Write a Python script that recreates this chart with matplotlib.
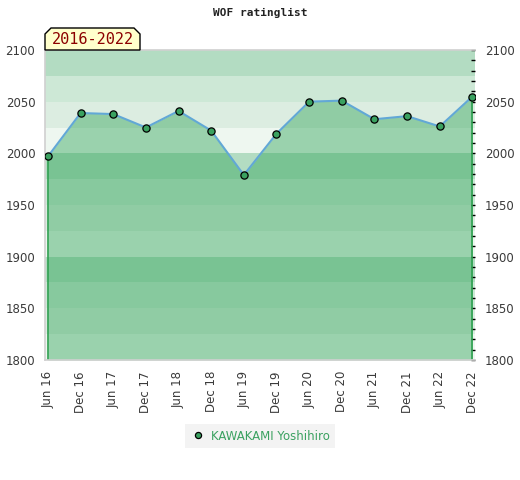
import matplotlib
matplotlib.use("Agg")
import matplotlib.pyplot as plt
from matplotlib.patches import Polygon
from matplotlib.ticker import MultipleLocator

# data
periods = ['Jun 16', 'Dec 16', 'Jun 17', 'Dec 17', 'Jun 18', 'Dec 18', 'Jun 19',
           'Dec 19', 'Jun 20', 'Dec 20', 'Jun 21', 'Dec 21', 'Jun 22', 'Dec 22']
rating = [1997, 2039, 2038, 2025, 2041, 2022, 1979,
          2019, 2050, 2051, 2033, 2036, 2026, 2055]
player = 'KAWAKAMI Yoshihiro'
span_label = '2016-2022'
y_min, y_max = 1800, 2100

# background band colours, period of 100 rating points (top to bottom)
band_colors = ['#b3dcc2', '#cde8d6', '#dcede1', '#eef7f0']

fig = plt.figure(figsize=(5.2, 4.8), dpi=100)
ax = fig.add_axes([45 / 520, 120 / 480, 430 / 520, 310 / 480])

# bands
for lo in range(y_min, y_max, 25):
    idx = 3 - ((lo - y_min) % 100) // 25
    ax.axhspan(lo, lo + 25, color=band_colors[idx], lw=0, zorder=0)

x = list(range(len(periods)))
green = '#2fa358'
ax.fill_between(x, rating, y_min, color=green, alpha=0.44, lw=0, zorder=1)
ax.vlines([x[0], x[-1]], y_min, [rating[0], rating[-1]], color='#2ea050', lw=1.2, zorder=2)
ax.plot(x, rating, color='#62a8d6', lw=1.5, zorder=3)
ax.plot(x, rating, ls='none', marker='o', ms=5.2, mfc='#3aa160', mec='black', mew=0.9,
        zorder=4, label=player)

ax.set_xlim(-0.09, len(periods) - 1 + 0.08)
ax.set_ylim(y_min, y_max)
ax.set_xticks(x)
ax.set_xticklabels(periods, rotation=90, fontsize=8.5, color='#3a3a3a')
ax.tick_params(axis='x', length=0, pad=8)

ax.yaxis.set_major_locator(MultipleLocator(50))
ax.yaxis.set_minor_locator(MultipleLocator(10))
ax.tick_params(axis='y', which='both', left=False, right=True, labelleft=True,
               labelright=True, direction='in', length=3, width=1, color='black',
               labelsize=8.5, labelcolor='#3a3a3a', pad=7)

for s in ax.spines.values():
    s.set_color('#d0d0d0')
    s.set_linewidth(1.2)
ax.spines['right'].set_visible(False)

fig.text(0.5, 1 - 13 / 480, 'WOF ratinglist', ha='center', va='center',
         family='DejaVu Sans Mono', fontsize=8, fontweight='bold', color='#222222')

# label box with chamfered top corners (pixel coords -> figure fraction)
bx0, bx1, by0, by1, ch = 45, 140, 50, 28, 6
pts = [(bx0, by0), (bx0, by1 + ch), (bx0 + ch, by1), (bx1 - ch, by1), (bx1, by1 + ch), (bx1, by0)]
pts = [(px / 520, 1 - py / 480) for px, py in pts]
fig.patches.append(Polygon(pts, closed=True, transform=fig.transFigure, facecolor='#ffffcc',
                           edgecolor='black', lw=1, zorder=5))
fig.text((bx0 + bx1) / 2 / 520, 1 - 40 / 480, span_label, ha='center', va='center',
         family='DejaVu Sans Mono', fontsize=11, color='#8b0000', zorder=6)

leg = fig.legend(loc='center', bbox_to_anchor=(0.5, 1 - 436 / 480), frameon=True,
                 fontsize=8.5, handletextpad=0.5, borderpad=0.45, handlelength=1.2,
                 fancybox=False, markerscale=0.85)
leg.get_frame().set_facecolor('#f0f0f0')
leg.get_frame().set_edgecolor('none')
for t in leg.get_texts():
    t.set_color('#3aa160')

fig.savefig('out.png', dpi=100)
